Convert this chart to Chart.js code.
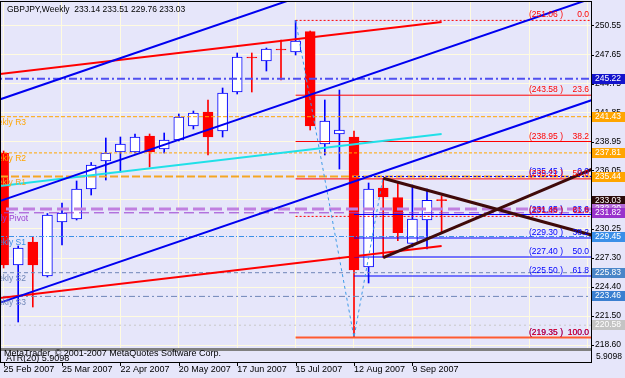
<!DOCTYPE html>
<html>
<head>
<meta charset="utf-8">
<script src="https://cdn.jsdelivr.net/npm/chart.js@4.4.0/dist/chart.umd.min.js"></script>
<style>
  html, body { margin: 0; padding: 0; background: #e6e6fa; }
  #wrap { width: 625px; height: 378px; }
</style>
</head>
<body>
<div id="wrap"><canvas id="chart" width="625" height="378"></canvas></div>
<script>
// weekly bars, week 0 = 25 Feb 2007
const weeks  = [0, 1, 2, 3, 4, 5, 6, 7, 8, 9, 10, 11, 12, 13, 14, 15, 16, 17, 18, 19, 20, 21, 22, 23, 24, 25, 26, 27, 28, 29, 30];
const opens  = [237.8, 226.6, 228.9, 225.5, 230.9, 231.2, 234.2, 237.0, 237.9, 237.9, 239.5, 238.2, 239.1, 240.5, 241.9, 240.0, 243.9, 247.4, 247.0, 248.2, 247.9, 249.93, 238.7, 239.7, 239.4, 226.4, 234.3, 233.33, 228.77, 231.1, 233.14];
const highs  = [238.0, 228.5, 229.45, 231.75, 232.8, 235.0, 236.85, 239.3, 239.4, 239.7, 239.7, 239.8, 241.7, 242.0, 243.1, 244.3, 247.8, 247.8, 248.3, 249.1, 251.06, 250.0, 243.1, 244.1, 240.0, 234.8, 235.27, 234.77, 234.6, 234.19, 233.51];
const lows   = [226.3, 220.9, 222.4, 225.4, 228.6, 231.1, 233.6, 235.1, 235.9, 237.8, 236.4, 237.8, 239.0, 240.2, 237.6, 239.4, 243.7, 243.9, 246.0, 245.1, 247.6, 240.1, 237.6, 236.2, 219.35, 224.8, 227.35, 229.03, 228.4, 228.2, 229.76];
const closes = [226.6, 228.3, 226.6, 231.6, 231.8, 234.2, 236.6, 237.8, 238.7, 239.4, 237.9, 239.1, 241.4, 241.8, 239.4, 243.8, 247.4, 247.3, 248.2, 248.1, 249.0, 240.5, 241.0, 240.1, 226.1, 234.2, 233.4, 229.83, 231.2, 233.07, 233.03];

const dateLabels = ["25 Feb 2007", "25 Mar 2007", "22 Apr 2007", "20 May 2007", "17 Jun 2007", "15 Jul 2007", "12 Aug 2007", "9 Sep 2007"];
const priceTicks = [250.55, 247.65, 244.75, 241.85, 238.95, 236.05, 233.15, 230.25, 227.30, 224.40, 221.50, 218.60];

// trend lines (week, price)
const chanX   = [-1, 41];
const chanTop = [242.79, 263.79];
const chanMid = [232.62, 253.62];
const chanLow = [222.45, 243.45];

const regX   = [-1, 30];
const regUp  = [245.57, 250.90];
const regMid = [234.37, 239.70];
const regLow = [223.17, 228.50];

const triX   = [26, 41];
const triUp  = [235.27, 229.31];
const triLow = [227.33, 236.62];

const fibVX = [20, 24, 26];
const fibVY = [251.06, 219.35, 235.45];

// fibonacci levels
const fibPct   = ["0.0", "23.6", "38.2", "50.0", "61.8", "100.0"];
const redFib   = [251.06, 243.58, 238.95, 235.21, 231.46, 219.35];
const blueFib  = [235.45, 231.65, 229.30, 227.40, 225.50, 219.35];

// weekly pivots and other levels
const pivotNames  = ["Weekly R3", "Weekly R2", "Weekly R1", "Weekly Pivot", "Weekly S1", "Weekly S2", "Weekly S3"];
const pivotLevels = [241.43, 237.81, 235.44, 231.82, 229.45, 225.83, 223.46];
const extraLevels = [245.22, 232.20, 220.58];

const boxValues = [245.22, 241.43, 237.81, 235.44, 233.03, 232.20, 231.82, 229.45, 225.83, 223.46, 220.58];

const header = "GBPJPY,Weekly  233.14 233.51 229.76 233.03";
const atrText = "ATR(20) 5.9098";

// styles
const pivotColors = ["#ffa500", "#ffa500", "#f5a623", "#9a3fd0", "#3d8fe6", "#6f86b8", "#6f86b8"];
const pivotDash   = [[4, 2], [3, 2], [8, 3], [10, 5], [5, 2, 1, 2], [4, 3], [6, 3, 2, 3]];
const pivotWidth  = [1, 1, 2, 1, 1, 1, 1];
const extraColors = ["#5050f0", "#c080e0", "#c8c8c8"];
const extraDash   = [[8, 3, 2, 3], [12, 5], [2, 3]];
const extraWidth  = [2, 3, 1];
const boxColors = ["#1414cc", "#ffa500", "#ffa500", "#ffa500", "#2a0a0a", "#b46ad8", "#9932cc", "#3a8fe8", "#4a86c8", "#3a7fd0", "#c4c4c4"];

const FONT = "'Liberation Sans', Arial, sans-serif";
const END = 40.5;

function seg(xs, ys, color, width, dash, order) {
  return {
    type: "line",
    data: xs.map((x, i) => ({ x: x, y: ys[i] })),
    borderColor: color,
    borderWidth: width,
    borderDash: dash || [],
    pointRadius: 0,
    tension: 0,
    order: order
  };
}

function noPad(scale) {
  scale.paddingLeft = 0;
  scale.paddingRight = 0;
  scale.paddingTop = 0;
  scale.paddingBottom = 0;
}

const datasets = [];

// channels and triangle
datasets.push(seg(chanX, chanTop, "#0000f0", 2, null, 1));
datasets.push(seg(chanX, chanMid, "#0000f0", 2, null, 1));
datasets.push(seg(chanX, chanLow, "#0000f0", 2, null, 1));
datasets.push(seg(regX, regUp, "#ff0000", 2, null, 2));
datasets.push(seg(regX, regMid, "#20e0e8", 2, null, 2));
datasets.push(seg(regX, regLow, "#ff0000", 2, null, 2));
datasets.push(seg(triX, triUp, "#3f0a0a", 3, null, 0));
datasets.push(seg(triX, triLow, "#3f0a0a", 3, null, 0));
datasets.push(seg(fibVX, fibVY, "#3d9be9", 1, [3, 3], 3));

// fib levels
redFib.forEach((v, i) => {
  const col = i === 5 ? "#ff5a30" : "#ff0000";
  datasets.push(seg([20, END], [v, v], col, i === 5 ? 2 : 1, i === 0 || i === 4 ? [2, 2] : null, 4));
});
blueFib.forEach((v, i) => {
  datasets.push(seg([24, END], [v, v], "#0000ff", 1, i === 0 ? [2, 2] : null, 4));
});

// pivots
pivotLevels.forEach((v, i) => {
  datasets.push(seg([-1, END], [v, v], pivotColors[i], pivotWidth[i], pivotDash[i], 5));
});
extraLevels.forEach((v, i) => {
  datasets.push(seg([-1, END], [v, v], extraColors[i], extraWidth[i], extraDash[i], 5));
});

// candles
const bull = weeks.map(i => closes[i] >= opens[i]);
datasets.push({
  type: "bar",
  data: weeks.map(i => ({ x: i, y: [Math.min(opens[i], closes[i]), Math.max(opens[i], closes[i])] })),
  backgroundColor: weeks.map(i => bull[i] ? "#ffffff" : "#ff0000"),
  borderColor: weeks.map(i => bull[i] ? "#0000ff" : "#ff0000"),
  borderWidth: 1,
  borderSkipped: false,
  barThickness: 10,
  grouped: false,
  order: 20
});
datasets.push({
  type: "bar",
  data: weeks.map(i => ({ x: i, y: [lows[i], highs[i]] })),
  backgroundColor: weeks.map(i => bull[i] ? "#0000ff" : "#ff0000"),
  borderWidth: 0,
  barThickness: 1,
  grouped: false,
  order: 21
});

const mt4 = {
  id: "mt4",
  beforeDraw(chart) {
    const ctx = chart.ctx;
    ctx.save();
    ctx.fillStyle = "#e6e6fa";
    ctx.fillRect(0, 0, chart.width, chart.height);
    ctx.restore();
  },
  afterDatasetsDraw(chart) {
    const ctx = chart.ctx;
    const xs = chart.scales.x;
    const ys = chart.scales.y;
    const area = chart.chartArea;
    ctx.save();

    // header
    ctx.font = "8.5px " + FONT;
    ctx.fillStyle = "#000";
    ctx.textBaseline = "middle";
    ctx.textAlign = "left";
    ctx.fillText(header, 7, 10);

    // pivot names, clipped at the left edge
    pivotNames.forEach((n, i) => {
      ctx.fillStyle = pivotColors[i];
      ctx.textAlign = "right";
      ctx.textBaseline = "top";
      ctx.fillText(n, i === 3 ? 28 : 26, ys.getPixelForValue(pivotLevels[i]) + 2);
    });

    // fib labels
    ctx.textBaseline = "bottom";
    ctx.textAlign = "right";
    blueFib.forEach((v, i) => {
      const py = ys.getPixelForValue(v) - 1;
      ctx.fillStyle = "#0000ff";
      ctx.fillText("(" + v.toFixed(2) + " )", 563, py);
      ctx.fillText(fibPct[i], 589, py);
    });
    redFib.forEach((v, i) => {
      const py = ys.getPixelForValue(v) - 1;
      ctx.fillStyle = "#ff0000";
      ctx.fillText("(" + v.toFixed(2) + " )", 563, py);
      ctx.fillText(fibPct[i], 589, py);
    });

    // sub window
    const b = area.bottom;
    ctx.fillStyle = "#808080";
    ctx.fillRect(0, b, area.right, 3);
    ctx.fillStyle = "#000";
    ctx.textAlign = "left";
    ctx.textBaseline = "middle";
    ctx.font = "9px " + FONT;
    ctx.fillText("MetaTrader, \u00a9 2001-2007 MetaQuotes Software Corp.", 4, b + 6);
    ctx.fillText(atrText, 6, b + 11);
    ctx.font = "8.5px " + FONT;
    ctx.fillText("5.9098", 596, b + 9);

    // frame
    ctx.strokeStyle = "#000";
    ctx.lineWidth = 1;
    ctx.strokeRect(0.5, 1.5, area.right, 361);

    // tick marks
    ctx.beginPath();
    priceTicks.forEach(v => {
      const py = Math.round(ys.getPixelForValue(v)) + 0.5;
      ctx.moveTo(area.right, py);
      ctx.lineTo(area.right + 3, py);
    });
    dateLabels.forEach((d, i) => {
      const px = Math.round(xs.getPixelForValue(i * 4)) + 0.5;
      ctx.moveTo(px, 362);
      ctx.lineTo(px, 366);
    });
    ctx.stroke();

    // price boxes
    boxValues.forEach((v, i) => {
      const py = Math.round(ys.getPixelForValue(v));
      ctx.fillStyle = boxColors[i];
      ctx.fillRect(area.right + 1, py - 5, 33, 10);
      ctx.fillStyle = "#fff";
      ctx.fillText(v.toFixed(2), area.right + 4, py);
    });
    ctx.restore();
  }
};

new Chart(document.getElementById("chart"), {
  type: "bar",
  data: { datasets: datasets },
  options: {
    responsive: false,
    animation: false,
    devicePixelRatio: 1,
    layout: { padding: { top: 2, left: 0, right: 0, bottom: 0 } },
    plugins: { legend: { display: false }, tooltip: { enabled: false } },
    scales: {
      x: {
        type: "linear",
        min: -3.6 / 14.6,
        max: 40.233,
        offset: false,
        border: { display: false },
        grid: { color: "#fffbe0", borderDash: [1, 3], drawTicks: false, offset: false },
        afterBuildTicks(scale) {
          const t = [];
          for (let v = 0; v <= 40; v += 4) t.push({ value: v });
          scale.ticks = t;
        },
        afterFit(scale) { scale.height = 30; noPad(scale); },
        ticks: {
          autoSkip: false,
          maxRotation: 0,
          align: "start",
          padding: 16,
          color: "#000",
          font: { family: FONT, size: 9 },
          callback: v => dateLabels[v / 4] || ""
        }
      },
      y: {
        position: "right",
        min: 218.3,
        max: 252.9,
        border: { display: false },
        grid: { color: "#fffbe0", borderDash: [1, 3], drawTicks: false },
        afterBuildTicks(scale) { scale.ticks = priceTicks.map(v => ({ value: v })); },
        afterFit(scale) { scale.width = 34; noPad(scale); },
        ticks: {
          autoSkip: false,
          padding: 4,
          color: "#000",
          font: { family: FONT, size: 8.5 },
          callback: v => v.toFixed(2)
        }
      }
    }
  },
  plugins: [mt4]
});
</script>
</body>
</html>
